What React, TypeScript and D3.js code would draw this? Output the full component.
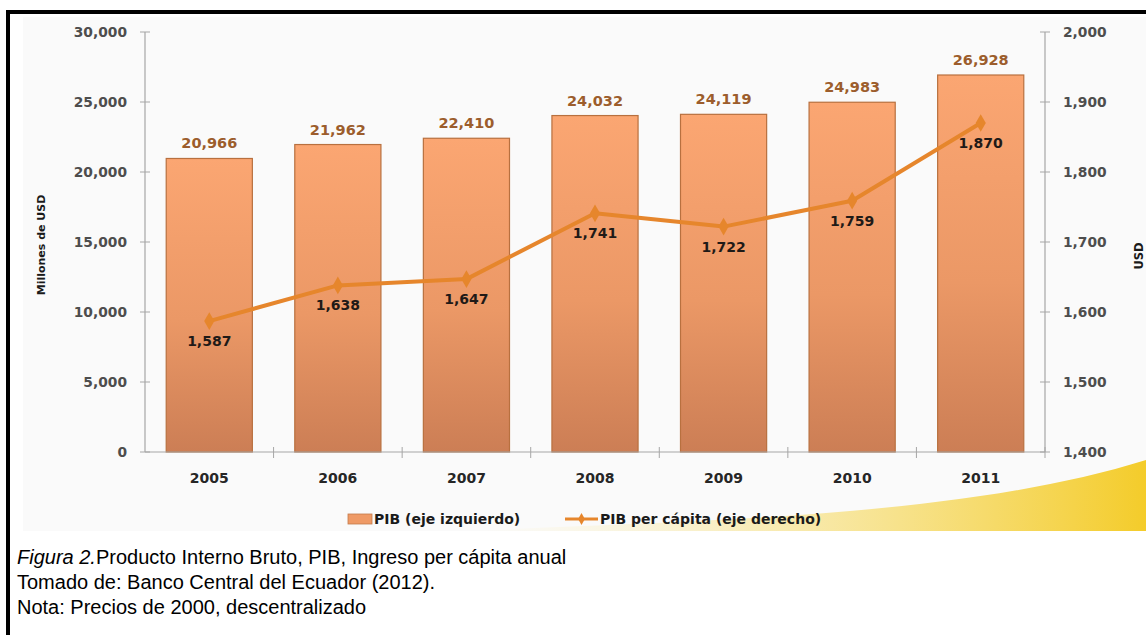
import React from "react";
import * as d3 from "d3";

const years = ["2005", "2006", "2007", "2008", "2009", "2010", "2011"];
const pib = [20966, 21962, 22410, 24032, 24119, 24983, 26928];
const pibPerCapita = [1587, 1638, 1647, 1741, 1722, 1759, 1870];
const leftTicks = [0, 5000, 10000, 15000, 20000, 25000, 30000];
const rightTicks = [1400, 1500, 1600, 1700, 1800, 1900, 2000];
const captionLines = [
  "Tomado de: Banco Central del Ecuador (2012).",
  "Nota: Precios de 2000, descentralizado",
];

const W = 1146;
const H = 635;
const FONT = "'DejaVu Sans', 'Open Sans', sans-serif";
const CAP = "'Liberation Sans', Arial, sans-serif";

export default function App() {
  const x = d3.scaleBand<string>().domain(years).range([145, 1045]).paddingInner(0.33).paddingOuter(0.165);
  const xb = d3.scaleBand<string>().domain(years).range([145, 1045]);
  const yL = d3.scaleLinear().domain([0, 30000]).range([452, 32]);
  const yR = d3.scaleLinear().domain([1400, 2000]).range([452, 32]);
  const fmt = d3.format(",");
  const line = d3
    .line<number>()
    .x((_, i) => (xb(years[i]) as number) + xb.bandwidth() / 2)
    .y((d) => yR(d));
  const axisColor = "#a6a6a6";
  const swoosh = "M 470 531 C 700 520, 960 518, 1146 460 L 1146 531 Z";

  return (
    <svg width={W} height={H} style={{ display: "block", position: "absolute", left: 0, top: 0 }}>
      <defs>
        <linearGradient id="barGrad" x1="0" y1="0" x2="0" y2="1">
          <stop offset="0%" stopColor="#fba672" />
          <stop offset="55%" stopColor="#eb9866" />
          <stop offset="100%" stopColor="#cc7e55" />
        </linearGradient>
        <linearGradient id="swGrad" x1="0" y1="0" x2="1" y2="0">
          <stop offset="0%" stopColor="#fbf3d2" stopOpacity="0" />
          <stop offset="40%" stopColor="#f8e9a8" stopOpacity="0.75" />
          <stop offset="100%" stopColor="#f4cc2a" stopOpacity="1" />
        </linearGradient>
      </defs>
      <rect x={0} y={0} width={W} height={H} fill="#ffffff" />
      <rect x={23} y={17} width={W - 23} height={514} fill="#fafafa" />
      <path d={swoosh} fill="url(#swGrad)" />
      {/* frame */}
      <rect x={6} y={10} width={W - 6} height={4} fill="#000" />
      <rect x={6} y={10} width={4} height={H - 10} fill="#000" />

      {/* bars */}
      {pib.map((v, i) => (
        <g key={years[i]}>
          <rect
            x={x(years[i])}
            y={yL(v)}
            width={x.bandwidth()}
            height={yL(0) - yL(v)}
            fill="url(#barGrad)"
            stroke="#b8703f"
            strokeWidth={1.2}
          />
          <text
            x={(x(years[i]) as number) + x.bandwidth() / 2}
            y={yL(v) - 10}
            textAnchor="middle"
            fontFamily={FONT}
            fontWeight={700}
            fontSize={14.5}
            fill="#9c5d2c"
          >
            {fmt(v)}
          </text>
        </g>
      ))}

      {/* axes */}
      <line x1={145} x2={145} y1={32} y2={452} stroke={axisColor} strokeWidth={1.2} />
      <line x1={1045} x2={1045} y1={32} y2={452} stroke={axisColor} strokeWidth={1.2} />
      <line x1={145} x2={1045} y1={452} y2={452} stroke={axisColor} strokeWidth={1.2} />
      {leftTicks.map((t) => (
        <g key={"l" + t}>
          <line x1={140} x2={150} y1={yL(t)} y2={yL(t)} stroke={axisColor} strokeWidth={1} />
          <text x={127} y={yL(t) + 5} textAnchor="end" fontFamily={FONT} fontWeight={700} fontSize={13.8} fill="#4d4d4d">
            {fmt(t)}
          </text>
        </g>
      ))}
      {rightTicks.map((t) => (
        <g key={"r" + t}>
          <line x1={1040} x2={1050} y1={yR(t)} y2={yR(t)} stroke={axisColor} strokeWidth={1} />
          <text x={1063} y={yR(t) + 5} textAnchor="start" fontFamily={FONT} fontWeight={700} fontSize={13.8} fill="#4d4d4d">
            {fmt(t)}
          </text>
        </g>
      ))}
      {years.map((yv) => (
        <g key={"x" + yv}>
          <line
            x1={(xb(yv) as number) + xb.bandwidth()}
            x2={(xb(yv) as number) + xb.bandwidth()}
            y1={447}
            y2={458}
            stroke={axisColor}
            strokeWidth={1}
          />
          <text
            x={(xb(yv) as number) + xb.bandwidth() / 2}
            y={483}
            textAnchor="middle"
            fontFamily={FONT}
            fontWeight={700}
            fontSize={14}
            fill="#262626"
          >
            {yv}
          </text>
        </g>
      ))}
      <text
        transform="translate(45,245) rotate(-90)"
        textAnchor="middle"
        fontFamily={FONT}
        fontWeight={700}
        fontSize={11}
        fill="#1a1a1a"
      >
        Millones de USD
      </text>
      <text
        transform="translate(1143,256) rotate(-90)"
        textAnchor="middle"
        fontFamily={FONT}
        fontWeight={700}
        fontSize={11.5}
        fill="#1a1a1a"
      >
        USD
      </text>

      {/* line */}
      <path d={line(pibPerCapita) as string} fill="none" stroke="#e6862c" strokeWidth={4} strokeLinejoin="round" />
      {pibPerCapita.map((v, i) => {
        const cx = (xb(years[i]) as number) + xb.bandwidth() / 2;
        const cy = yR(v);
        return (
          <g key={"p" + i}>
            <path d={d3.symbol(d3.symbolDiamond, 90)() as string} transform={`translate(${cx},${cy})`} fill="#e6862c" />
            <text x={cx} y={cy + 25} textAnchor="middle" fontFamily={FONT} fontWeight={700} fontSize={14} fill="#1f1a17">
              {fmt(v)}
            </text>
          </g>
        );
      })}

      {/* legend */}
      <rect x={348} y={514} width={24} height={10} fill="#ef9a66" stroke="#c47a4a" strokeWidth={0.8} />
      <text x={374} y={524} fontFamily={FONT} fontWeight={700} fontSize={14} fill="#1a1a1a">
        PIB (eje izquierdo)
      </text>
      <line x1={565} x2={598} y1={519} y2={519} stroke="#e6862c" strokeWidth={3} />
      <path d={d3.symbol(d3.symbolDiamond, 40)() as string} transform="translate(581.5,519)" fill="#e6862c" />
      <text x={600} y={524} fontFamily={FONT} fontWeight={700} fontSize={14} fill="#1a1a1a">
        PIB per cápita (eje derecho)
      </text>

      {/* caption */}
      <text x={17} y={564} fontFamily={CAP} fontSize={20} fill="#000">
        <tspan fontStyle="italic">Figura 2.</tspan>
        <tspan>Producto Interno Bruto, PIB, Ingreso per cápita anual</tspan>
      </text>
      {captionLines.map((c, i) => (
        <text key={c} x={17} y={589 + i * 24.5} fontFamily={CAP} fontSize={20} fill="#000">
          {c}
        </text>
      ))}
    </svg>
  );
}
